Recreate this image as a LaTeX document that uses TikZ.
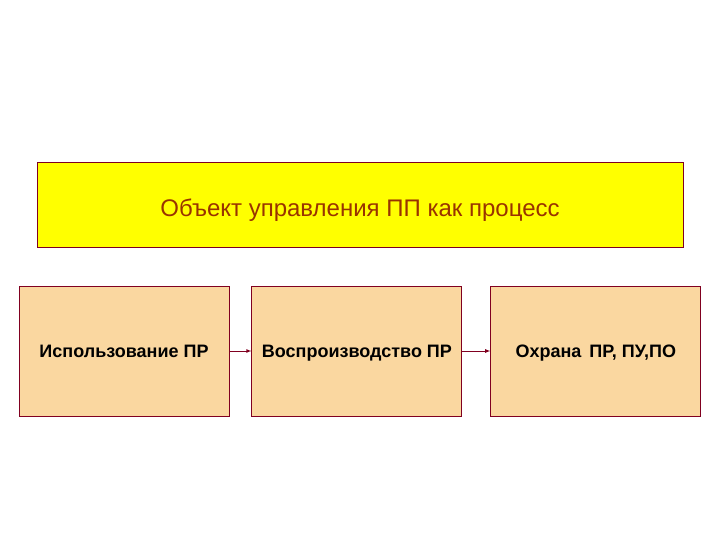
\documentclass[tikz,border=0pt]{standalone}
\usepackage{fontspec}
\setmainfont{Liberation Sans}
\usetikzlibrary{positioning}
\definecolor{frame}{RGB}{128,0,32}
\definecolor{peach}{RGB}{250,215,160}
\definecolor{title}{RGB}{153,51,0}
\definecolor{lemon}{RGB}{255,255,0}
\begin{document}
\begin{tikzpicture}[
			x=1pt, y=-1pt,
			main/.style = {draw=frame, fill=peach, line width=0.9pt, minimum width=210pt, minimum height=130pt, inner sep=0pt, text height=13pt, text depth=0pt, font=\fontsize{18}{21}\selectfont\bfseries},
			head/.style = {draw=frame, fill=lemon, line width=0.9pt, minimum width=646pt, minimum height=85pt, inner sep=0pt, text height=23pt, text depth=0pt, text=title, font=\fontsize{24}{28}\selectfont},
			link/.style = {draw=frame, line width=0.8pt, -latex},
			]
			\useasboundingbox (0,0) rectangle (720,540);
			\node[head] (goal) at (360,204.5) {Объект управления ПП как процесс};
			\node[main] (use) at (124,351) {Использование ПР};
			\node[main, right=22pt of use] (repro) {Воспроизводство ПР};
			\node[main, right=28pt of repro] (guard) {Охрана\, ПР, ПУ,ПО};
			\draw[link] (use) -- (repro);
			\draw[link] (repro) -- (guard);
		\end{tikzpicture}
\end{document}
